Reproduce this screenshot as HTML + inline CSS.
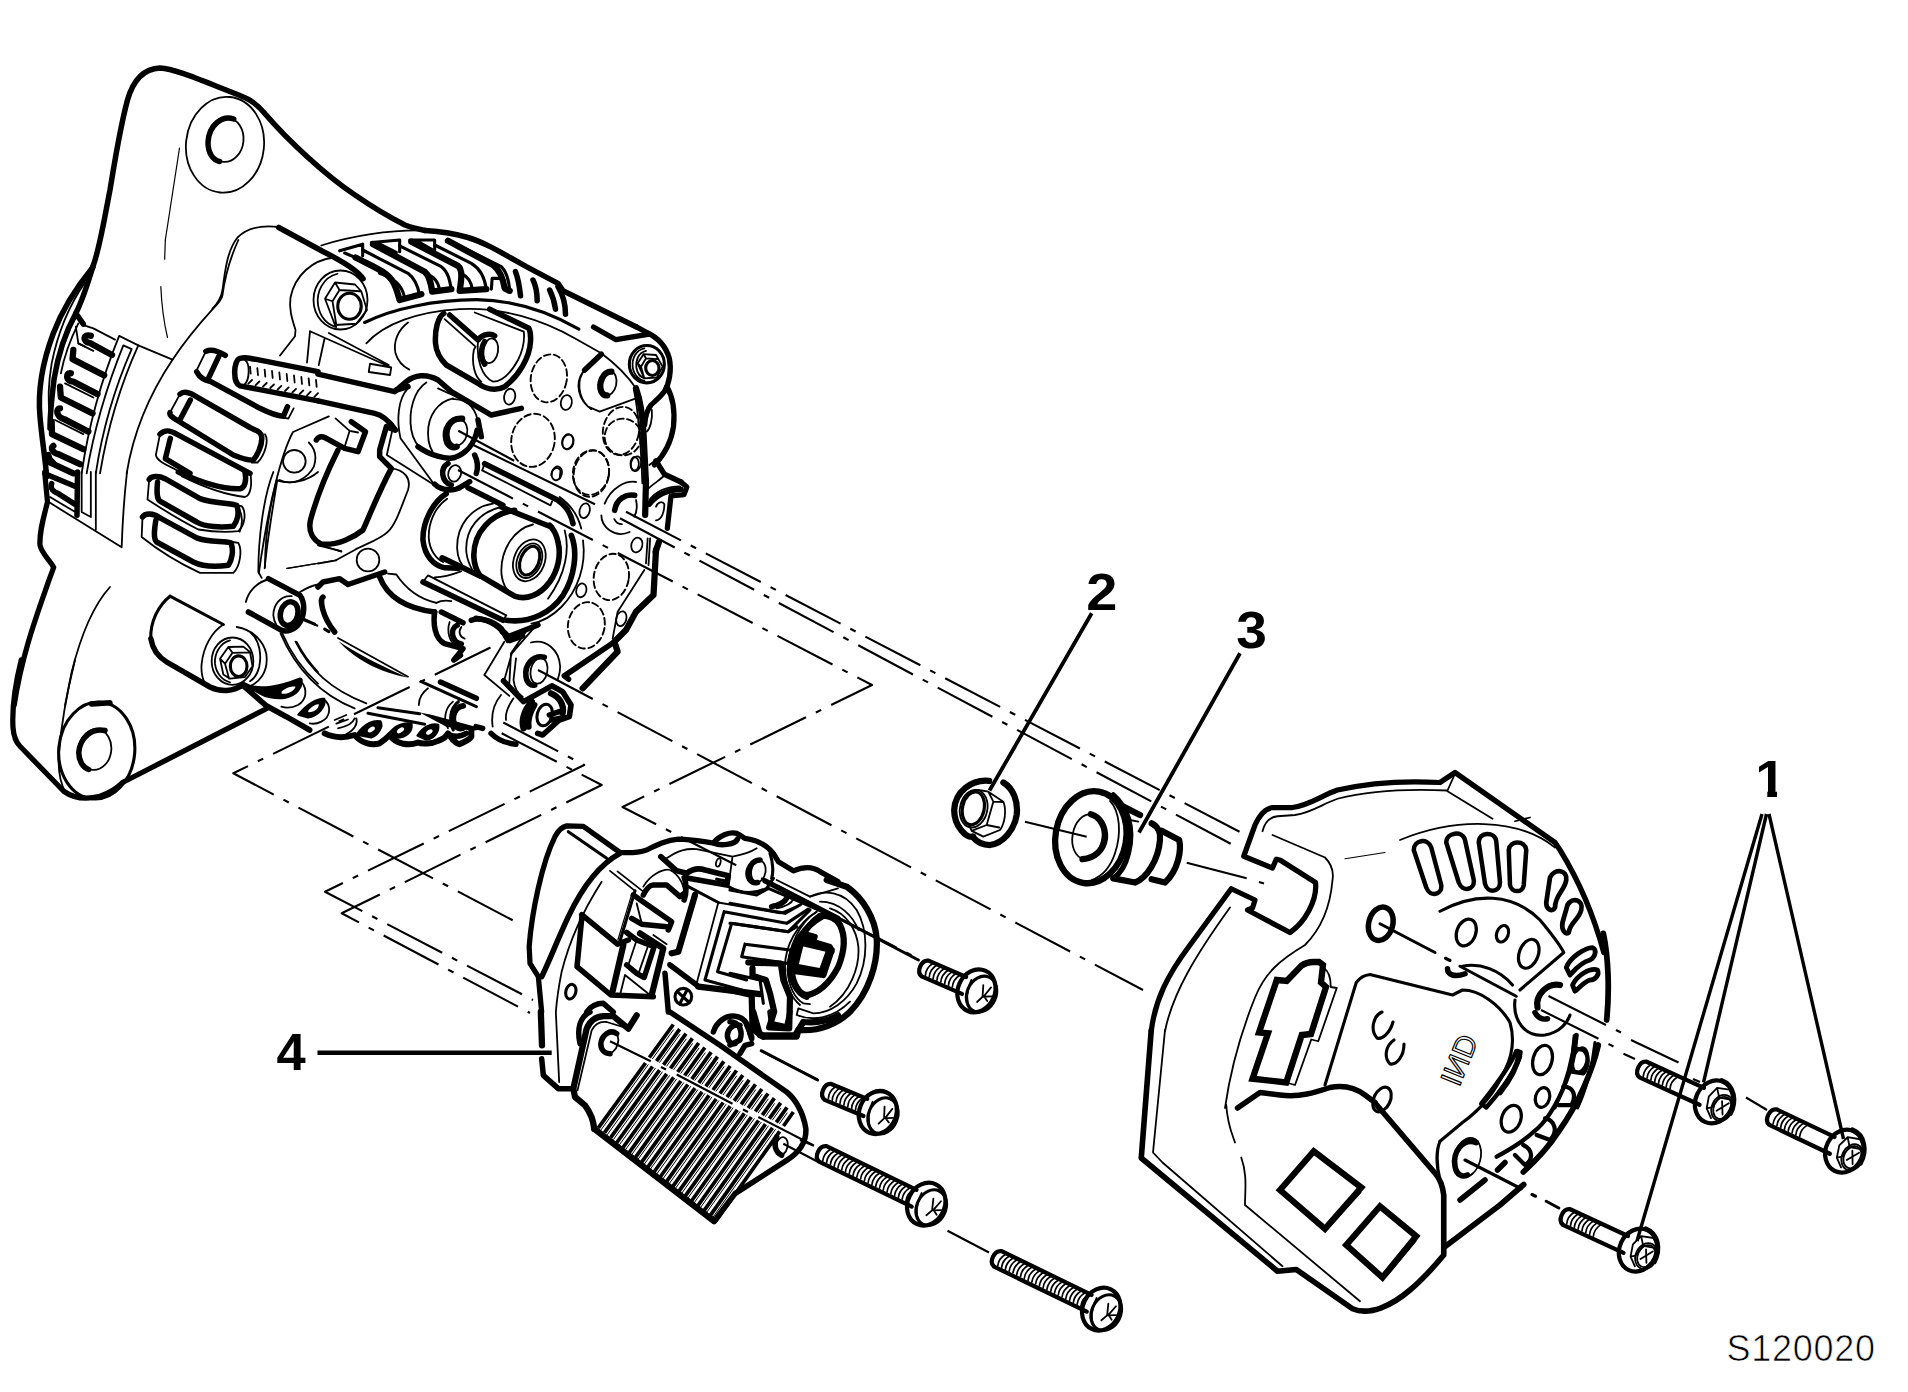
<!DOCTYPE html>
<html><head><meta charset="utf-8"><title>S120020</title>
<style>
html,body{margin:0;padding:0;background:#fff;}
svg{display:block}
svg text{font-family:"Liberation Sans",sans-serif;fill:#000;stroke:none}
path,line,ellipse,circle,polygon,polyline,rect{vector-effect:non-scaling-stroke}
g{stroke-width:1.8}
.k{stroke-width:5.5}
.m{stroke-width:3.1}
.t{stroke-width:1.8}
.h{stroke-width:1.2}
.d{stroke-width:1.9;stroke-dasharray:6.5 3.5}
.c{stroke-width:2.1;stroke-dasharray:62 11 6 11;stroke-linecap:butt}
.cs{stroke-width:2.1;stroke-linecap:butt}
.f{fill:#000}
.w{fill:#fff}
</style></head><body>
<svg width="1908" height="1392" viewBox="0 0 1908 1392" fill="none" stroke="#000" stroke-linecap="round" stroke-linejoin="round">
<rect x="0" y="0" width="1908" height="1392" fill="#fff" stroke="none"/>
<!-- T1: 6x tile [0,240,318,472] : front housing, fan blades, slots -->
<g transform="translate(0,240) scale(.166667)">
<!-- outer arcs -->
<path class="k" d="M556,165 C470,270 380,400 320,560 C260,720 225,900 240,1060 C250,1180 270,1300 280,1420"/>
<path class="k" d="M556,165 C530,250 490,370 455,440 L500,505"/>
<path class="t" d="M510,255 C430,370 350,540 310,740 C290,860 285,960 300,1060"/>
<path class="k" d="M455,440 C400,540 350,680 325,830 C310,950 300,1060 300,1130"/>
<path class="t" d="M470,500 C420,600 385,700 365,800 M455,520 L470,620 L510,640"/>
<!-- fan blades -->
<g style="stroke-width:6.30">
<path  d="M545,575 C500,560 490,610 540,618 L672,690"/>
<path  d="M440,660 L435,715 L625,812"/>
<path  d="M425,800 C395,790 390,850 440,850 L585,925"/>
<path  d="M360,880 L365,945 L555,1040"/>
<path  d="M360,1010 C335,1010 335,1060 385,1075 L530,1150"/>
<path  d="M310,1090 L312,1165 L500,1255"/>
<path  d="M320,1235 C300,1250 320,1280 350,1285 L480,1345"/>
<path  d="M290,1290 L300,1335 L440,1400"/>
</g>
<path class="t" d="M470,620 L560,665 M390,860 L560,945 M330,1080 L500,1165 M300,1300 L330,1330"/>
<!-- strip -->
<path class="t" d="M715,575 C640,760 540,1050 490,1400 M740,632 C660,830 570,1100 520,1400 M790,655 C700,860 620,1100 575,1400 M830,632 C740,830 650,1100 600,1400 M715,575 L830,632 M740,632 L790,655"/>
<path class="t" d="M505,512 L560,530 L690,598 M830,632 L1035,718"/>
<!-- large inner contour -->
<path class="t" d="M1430,0 C1380,110 1350,220 1335,330 C1330,360 1300,390 1280,410 C1180,520 1100,620 1035,718 C900,920 800,1150 760,1400"/>
<path class="h" d="M992,0 L988,115 M965,280 C970,400 985,500 1005,585"/>
<path class="h" d="M1077,-552 L992,0"/>
<!-- stud -->
<path class="k" d="M1908,965 L1440,875 C1395,860 1400,720 1440,710 C1480,700 1500,712 1530,715 L1908,790"/>
<path class="t" d="M1470,720 C1500,740 1500,840 1465,870"/>
<path class="t" d="M1500,760 l4,42 M1544,769 l4,42 M1588,778 l4,42 M1632,786 l4,42 M1676,795 l4,42 M1720,804 l4,42 M1764,813 l4,42 M1808,822 l4,42 M1852,830 l4,42 M1896,839 l4,42"/>
<path class="t" d="M1490,862 l22,-22 M1534,871 l22,-22 M1578,880 l22,-22 M1622,888 l22,-22 M1666,897 l22,-22 M1710,906 l22,-22 M1754,915 l22,-22 M1798,924 l22,-22 M1842,932 l22,-22 M1886,941 l22,-22"/>
<!-- slot 1 -->
<path class="k" d="M1235,668 C1260,655 1300,660 1352,692 M1180,790 C1200,830 1230,840 1265,850 L1560,1010 C1620,1040 1660,1055 1700,1058 L1725,1000 M1312,700 L1250,832"/>
<path class="t" d="M1235,668 L1178,785 M1700,1065 L1730,1072 L1762,1010"/>
<!-- slot 2 -->
<path class="k" d="M1080,925 C1100,905 1140,915 1170,935 L1500,1125 C1540,1145 1565,1150 1570,1180 C1575,1230 1545,1290 1520,1320 C1490,1325 1450,1310 1400,1290 L1060,1080 C1030,1060 1015,1050 1020,1035 M1142,960 L1080,1078"/>
<path class="t" d="M1080,925 L1020,1035 M1590,1165 C1615,1200 1590,1290 1545,1335 L1510,1335"/>
<!-- slot 3 -->
<path class="k" d="M960,1165 C990,1135 1020,1140 1060,1165 L1500,1400 M1022,1190 L992,1312 L1140,1400"/>
<path class="t" d="M960,1165 L935,1290 C940,1320 980,1340 1040,1370 L1090,1400"/>
</g>

<!-- A: 4x tile [0,40,477,388] : bracket, boss -->
<g transform="translate(0,40) scale(.25)">
<path class="k" d="M372,905 C400,830 420,700 440,600 C460,480 480,350 510,240 C530,170 570,115 640,112 C700,115 800,160 960,222 C1010,240 1040,270 1060,295 C1150,400 1300,540 1420,620 C1500,675 1560,710 1620,740 C1650,752 1680,758 1700,762"/>
<ellipse class="t" cx="900" cy="419" rx="156" ry="192" transform="rotate(6 900 419)"/>
<ellipse class="t" cx="902" cy="399" rx="72" ry="89" transform="rotate(6 902 399)"/>
<path class="k" d="M935,316 C890,300 835,340 832,410 C832,450 850,480 878,486"/>
<!-- inner contour -->
<path class="t" d="M1115,748 C1050,740 990,750 950,790 C910,840 900,920 890,1000 C885,1030 875,1050 850,1075"/>
<path class="k" d="M1115,750 L1290,845 C1370,885 1430,920 1452,955"/>
<path class="t" d="M1285,822 C1400,785 1560,758 1700,762"/>
<!-- bolt boss -->
<path class="t" d="M1335,870 C1250,880 1180,940 1162,1030 C1155,1080 1170,1120 1182,1160 L1180,1185 L1120,1262"/>
<ellipse class="t" cx="1362" cy="1040" rx="108" ry="118"/>
<path class="t" d="M1350,935 C1290,950 1265,1010 1272,1060 C1280,1110 1310,1140 1345,1148"/>
<path class="t" d="M1300,1035 L1340,970 L1420,978 L1445,1005 L1468,1080 L1425,1135 L1340,1140 Z M1340,970 L1358,1000 L1330,1045 L1300,1035 M1330,1045 L1345,1138 M1358,1000 L1440,1005"/>
<ellipse class="m" cx="1398" cy="1065" rx="47" ry="52"/>
<!-- triangle mark -->
<path class="t" d="M1240,1165 L1565,1310 L1560,1340 L1475,1328 L1480,1295 L1565,1310 M1240,1165 L1228,1290 M1298,1195 L1275,1300 M1315,1172 L1555,1300"/>
</g>

<!-- T2: 6x tile [318,200,636,432] : fins, ring, diode -->
<g transform="translate(318,200) scale(.166667)">
<path class="k" d="M642,183 C720,188 800,195 900,225 C1000,255 1100,315 1250,400 L1440,500 L1470,545 L1908,760"/>
<!-- fins -->
<path class="m" d="M130,305 L268,265 L268,335 M160,318 L225,345"/>
<path class="k" style="stroke-width:6.30" d="M225,345 C330,400 420,430 455,500 C475,540 480,570 490,600 L620,565"/>
<path class="m" d="M268,300 L540,440 C580,470 600,520 610,570 M370,440 C450,470 500,500 520,585"/>
<path class="m" d="M320,255 L490,240 L490,310 M365,262 L470,315"/>
<path class="k" style="stroke-width:6.30" d="M330,265 L640,430 C665,450 675,480 685,550 L800,535"/>
<path class="m" d="M490,275 L740,400 C780,430 790,480 800,535 M640,440 C700,460 720,490 730,540"/>
<path class="m" d="M550,240 L700,240 L700,300 M600,250 L690,300"/>
<path class="k" style="stroke-width:6.30" d="M560,250 L840,395 C870,420 860,480 850,545 L1010,535"/>
<path class="m" d="M700,270 L920,380 C970,410 1000,460 1010,535 M860,440 C900,460 920,490 925,535"/>
<path class="k" style="stroke-width:6.30" d="M780,245 L1050,390 C1090,420 1110,470 1120,530 L1150,545"/>
<path class="m" d="M880,290 L1100,400 C1130,430 1145,470 1150,545 M1040,535 L1045,470 L1100,470"/>
<path class="k" d="M1185,430 C1205,480 1210,530 1215,575 M1290,480 C1310,520 1315,560 1315,605 M1390,540 C1410,580 1420,620 1425,655 M1440,520 C1470,570 1485,630 1485,685"/>
<!-- ring arcs -->
<path class="m" d="M280,735 C450,650 700,600 950,598 C1150,600 1350,650 1565,775"/>
<path class="t" d="M290,860 C400,740 600,670 850,655 C1100,640 1350,720 1540,830 L1700,920 C1780,980 1860,1060 1908,1130"/>
<!-- diode holder -->
<path class="k" d="M755,680 C720,700 700,780 705,860 C710,920 740,960 770,990 L960,1100 C1000,1130 1060,1150 1120,1120 C1200,1060 1270,950 1275,850 C1278,800 1270,780 1265,770 L1030,655"/>
<path class="k" d="M790,690 L960,840 C990,800 1040,800 1060,815 M1000,850 C970,900 980,960 1000,985"/>
<path class="t" d="M760,715 L945,880 L935,900 C920,980 940,1060 980,1090 M960,850 C950,950 980,1060 1050,1090 C1100,1090 1150,1050 1200,960 C1230,900 1240,840 1235,790 L940,675"/>
<ellipse class="t" cx="1035" cy="905" rx="45" ry="75" transform="rotate(10 1035 905)"/>
<path class="t" d="M540,735 C480,780 450,850 465,920 C480,970 510,1000 548,1018"/>
<!-- dashed circles -->
<ellipse class="d" cx="1385" cy="1070" rx="108" ry="145" transform="rotate(10 1385 1070)"/>
<ellipse class="t" cx="1150" cy="1180" rx="33" ry="48" transform="rotate(10 1150 1180)"/>
<ellipse class="t" cx="1490" cy="1215" rx="33" ry="45" transform="rotate(10 1490 1215)"/>
<!-- right boss -->
<path class="k" d="M1700,925 L1600,1020"/>
<path class="t" d="M1600,1020 C1550,1080 1560,1180 1620,1240 L1690,1270 L1908,1190 M1590,1030 C1540,1100 1560,1200 1640,1255"/>
<ellipse class="t" cx="1740" cy="1100" rx="50" ry="75" transform="rotate(12 1740 1100)"/>
<path class="k" style="stroke-width:6.30" d="M1760,1030 C1710,1030 1680,1100 1700,1150 C1710,1170 1720,1175 1735,1172"/>
<!-- arm thick -->
<path class="k" d="M0,1045 L460,1150 L530,1090 C580,1050 650,1040 720,1080 L800,1150 L1040,1290 L1220,1250"/>
<path class="k" d="M470,1140 L540,1120"/>
</g>

<!-- T3: 6x tile [556,250,874,482] : right ear, bolt -->
<g transform="translate(556,250) scale(.166667)">
<path class="k" style="stroke-width:5.25" d="M480,460 L545,495 C620,530 660,580 680,650 C695,720 680,800 650,850 C620,890 590,910 570,930 C545,960 535,1000 532,1050"/>
<path class="k" style="stroke-width:5.25" d="M225,462 L360,538 L560,505"/>
<path class="k" style="stroke-width:6.25" d="M480,830 C505,900 520,1000 525,1100 L540,1400"/>
<path class="t" d="M468,840 C490,950 508,1100 518,1400"/>
<path class="k" style="stroke-width:5.25" d="M665,820 C700,880 715,960 705,1060 C690,1160 640,1240 590,1290"/>
<path class="k" d="M600,1265 L650,1345 L750,1392"/>
<path class="t" d="M575,960 C580,1020 565,1070 545,1090 M560,1290 L600,1260"/>
<!-- bolt -->
<ellipse class="m" cx="545" cy="685" rx="105" ry="112"/>
<path class="t" d="M530,590 C480,600 455,650 460,700 C465,750 500,780 530,785 M540,605 C495,615 478,660 482,705 C488,745 510,765 535,770"/>
<path class="t" d="M490,680 L525,625 L600,630 L640,700 L605,765 L530,770 Z M525,625 L540,650 L510,700 L490,680 M510,700 L530,770 M540,650 L610,655"/>
<ellipse class="m" cx="578" cy="708" rx="40" ry="45"/>
<!-- dashed circles -->
<ellipse class="d" cx="390" cy="1085" rx="108" ry="145" transform="rotate(10 390 1085)"/>
<ellipse class="d" cx="210" cy="1335" rx="108" ry="135" transform="rotate(10 210 1335)"/>
<ellipse class="t" cx="70" cy="1150" rx="33" ry="45" transform="rotate(15 70 1150)"/>
<ellipse class="t" cx="480" cy="1282" rx="30" ry="45" transform="rotate(15 480 1282)"/>
<ellipse class="t" cx="5" cy="1340" rx="30" ry="42" transform="rotate(15 5 1340)"/>
</g>

<!-- T5: 6x tile [238,340,556,572] : stud end, B+ boss, window -->
<g transform="translate(238,340) scale(.166667)">
<path class="k" d="M480,365 L820,440 C870,450 910,490 945,540"/>
<!-- boss -->
<path class="t" d="M1020,290 C960,350 950,480 975,590 L1180,870"/>
<path class="t" d="M1130,255 C1060,300 1020,420 1040,540 C1050,600 1080,640 1100,650 M1290,350 C1200,370 1140,450 1140,560 C1140,620 1160,670 1190,700"/>
<path class="t" d="M1200,290 L1320,345 M1290,355 C1380,350 1440,420 1440,520"/>
<path class="k" d="M1080,640 C1150,690 1250,720 1300,705 C1370,680 1420,620 1435,540 M1440,480 L1460,580"/>
<path class="k" style="stroke-width:6.25" d="M1345,472 C1270,465 1235,540 1250,600 C1260,640 1290,650 1312,640"/>
<ellipse class="t" cx="1320" cy="555" rx="55" ry="78" transform="rotate(12 1320 555)"/>
<path class="k" d="M1260,740 C1210,770 1220,850 1280,870 M1180,865 C1220,905 1300,910 1340,880 L1390,850 M1420,690 C1440,730 1440,770 1430,800"/>
<ellipse class="t" cx="1300" cy="800" rx="38" ry="50" transform="rotate(15 1300 800)"/>
<!-- window -->
<path class="k" d="M470,600 C480,580 500,575 520,585 L640,650 L720,670 L765,550 L680,490"/>
<path class="k" d="M600,660 C540,780 470,950 435,1080 C420,1150 450,1200 500,1225 C600,1235 700,1180 750,1140 C790,1050 850,900 920,770 L850,700 L850,660 L890,520 L940,540"/>
<path class="t" d="M585,470 L670,545 L720,555 M670,545 L640,640 M925,545 L893,690 L1180,872"/>
<path class="t" d="M545,458 L330,552 C260,680 180,1000 125,1400 M235,845 C210,1000 175,1200 160,1370 M235,845 L250,840 C330,880 420,830 455,760 C475,700 460,650 425,615"/>
<circle class="t" cx="338" cy="728" r="68"/>
<path class="t" d="M920,770 C1000,780 1040,830 1020,900 C980,1000 950,1100 900,1150 C850,1200 750,1230 700,1260 L590,1320 M540,1245 L620,1270"/>
<path class="h" d="M590,1320 L300,1370"/>
<circle class="t" cx="780" cy="1320" r="68"/>
<path class="t" d="M0,1000 C30,1050 30,1100 10,1150"/>
</g>

<!-- T4: 6x tile [318,432,636,664] : centre bearing -->
<g transform="translate(318,432) scale(.166667)">
<!-- outer left arc -->
<path class="k" d="M770,370 C690,420 625,540 630,650 C640,740 690,800 760,815 L840,818"/>
<path class="t" d="M775,400 C700,450 660,550 665,640 C670,710 710,760 750,780"/>
<path class="k" style="stroke-width:5.62" d="M745,755 L975,865"/>
<path class="k" d="M900,335 L1110,440 M1100,450 L1400,570"/>
<path class="t" d="M1050,430 C920,450 830,560 835,700 C838,760 860,800 890,825 M1100,450 C970,480 880,580 890,720 C895,770 910,800 930,835"/>
<path class="k" style="stroke-width:5.62" d="M1180,470 C1040,490 930,600 935,750 C938,800 950,830 970,860 L1180,985 C1250,1010 1330,980 1390,900 C1440,830 1460,740 1440,660 C1430,610 1410,580 1390,560"/>
<path class="t" d="M1290,555 C1180,580 1100,700 1100,830 C1100,900 1130,960 1180,985"/>
<ellipse class="t" cx="1268" cy="770" rx="92" ry="130" transform="rotate(22 1268 770)"/>
<ellipse class="t" cx="1268" cy="772" rx="72" ry="108" transform="rotate(22 1268 772)"/>
<ellipse class="m" cx="1270" cy="772" rx="55" ry="90" transform="rotate(22 1270 772)"/>
<!-- outer right ring -->
<path class="k" style="stroke-width:5.62" d="M1520,620 C1560,720 1540,870 1470,980 C1400,1080 1280,1150 1130,1130"/>
<path class="t" d="M1590,650 C1610,800 1560,950 1460,1050 C1400,1110 1340,1140 1280,1150 M1480,590 C1510,700 1490,850 1380,1000"/>
<!-- upper plate -->
<path class="k" style="stroke-width:5.62" d="M1000,190 L1440,410 C1500,450 1520,500 1530,550"/>
<path class="t" d="M1000,190 L985,230 L1395,440 L1405,415 M1450,390 C1520,440 1560,500 1580,580"/>
<!-- lower plate -->
<path class="k" style="stroke-width:5.62" d="M630,900 L1110,1130"/>
<path class="t" d="M630,900 L660,860 L1130,1100 L1110,1130 M700,872 C780,870 820,850 860,835"/>
<!-- lower-left window -->
<path class="k" d="M0,930 L30,900 L130,880 L180,915 L400,840 M30,990 C10,1000 20,1100 100,1200 M370,870 C420,1000 540,1060 700,1080"/>
<path class="t" d="M420,850 L470,855 C520,930 600,1000 710,1025 M0,790 L110,770 M0,680 L140,715"/>
<!-- lower terminal -->
<path class="k" d="M700,1080 C690,1150 700,1240 760,1270 L870,1300 M740,1080 L870,1145 M835,1160 C790,1180 800,1260 860,1272 M920,1130 C960,1110 1050,1130 1100,1180 L1140,1250"/>
<path class="t" d="M710,1025 C740,1010 770,1010 800,1015 M790,1140 C770,1200 790,1260 830,1285 M860,1170 C840,1200 850,1230 880,1240"/>
<!-- dashed circles -->
<ellipse class="d" cx="1640" cy="250" rx="105" ry="140" transform="rotate(10 1640 250)"/>
<ellipse class="d" cx="1290" cy="50" rx="130" ry="160" transform="rotate(10 1290 50)"/>
<ellipse class="d" cx="1830" cy="30" rx="110" ry="110"/>
<ellipse class="d" cx="1760" cy="870" rx="105" ry="140" transform="rotate(10 1760 870)"/>
<ellipse class="d" cx="1610" cy="1160" rx="110" ry="140" transform="rotate(10 1610 1160)"/>
<ellipse class="t" cx="1500" cy="60" rx="33" ry="45" transform="rotate(15 1500 60)"/>
<ellipse class="t" cx="1600" cy="472" rx="30" ry="45" transform="rotate(15 1600 472)"/>
<ellipse class="t" cx="1580" cy="950" rx="30" ry="42" transform="rotate(15 1580 950)"/>
<ellipse class="t" cx="1820" cy="1120" rx="30" ry="45" transform="rotate(15 1820 1120)"/>
<ellipse class="t" cx="1900" cy="190" rx="25" ry="40"/>
<path class="t" d="M1400,260 C1400,220 1440,200 1455,230 L1450,280"/>
<!-- right boss -->
<path class="k" style="stroke-width:5.62" d="M1780,470 C1790,400 1850,370 1900,380"/>
<path class="t" d="M1720,430 C1760,330 1850,290 1908,300 M1700,500 C1700,570 1780,640 1870,600"/>
</g>

<!-- T6: 6x tile [0,472,318,704] -->
<g transform="translate(0,472) scale(.166667)">
<path class="k" style="stroke-width:5.25" d="M268,0 L285,180 C260,280 235,360 240,440 C250,490 300,530 322,572 L290,660 C220,860 130,1100 85,1400"/>
<!-- slot 3 end -->
<path class="k" d="M1070,0 C1200,60 1330,105 1440,100 C1470,95 1480,50 1470,0"/>
<path class="t" d="M1090,25 C1200,80 1330,135 1470,150 C1505,140 1515,70 1500,0"/>
<!-- slot 4 -->
<path class="k" d="M895,45 C905,25 950,20 990,40 L1200,160 C1280,190 1380,185 1420,200 C1440,250 1420,300 1400,325 C1330,335 1230,330 1180,300 L960,175 C940,160 940,120 945,60"/>
<path class="t" d="M895,45 L885,165 C1000,240 1100,300 1190,345 C1280,360 1380,360 1430,355 C1470,320 1480,240 1450,205 L1420,200"/>
<!-- slot 5 -->
<path class="k" d="M855,270 C870,245 920,245 960,275 L1180,395 C1260,425 1340,410 1385,425 C1405,470 1390,530 1370,560 C1300,570 1220,570 1160,540 L940,420 C920,400 925,350 935,290"/>
<path class="t" d="M855,270 L850,390 C950,470 1080,550 1200,605 L1400,605 C1440,570 1455,470 1430,425 L1395,420"/>
<!-- strip bottom / blades -->
<path class="t" d="M490,0 L490,240 L545,270 L545,0 M575,0 L575,345 M762,0 C745,150 735,300 730,450 M300,150 L460,245 M300,185 L730,452"/>
<path class="k" d="M465,0 L462,260 M270,10 L460,90 M310,70 C300,100 320,120 350,130 L460,200"/>
<path class="t" d="M660,690 C560,800 480,1000 430,1200 L390,1400"/>
<!-- lower boss -->
<path class="m" d="M1020,745 L1340,915 M1020,745 C950,800 900,900 905,1000"/>
<path class="k" d="M905,1000 C915,1060 950,1110 1000,1140 L1260,1290 C1320,1320 1400,1320 1460,1275 C1550,1330 1700,1290 1800,1250"/>
<path class="t" d="M1340,915 C1270,960 1220,1050 1210,1150 C1205,1200 1215,1240 1230,1270 M1420,930 C1540,950 1605,1050 1600,1130 C1600,1200 1560,1260 1500,1285 M1500,960 C1560,1010 1570,1100 1555,1170 C1545,1210 1525,1240 1500,1255"/>
<ellipse class="t" cx="1395" cy="1135" rx="125" ry="142"/>
<path class="t" d="M1380,1010 C1320,1025 1285,1090 1290,1150 C1297,1210 1335,1250 1380,1262"/>
<path class="t" d="M1320,1120 L1370,1050 L1460,1048 L1500,1080 L1515,1165 L1470,1230 L1380,1240 L1340,1215 Z M1370,1050 L1395,1085 L1350,1150 L1320,1120 M1350,1150 L1375,1240 M1395,1085 L1500,1082"/>
<ellipse class="m" cx="1432" cy="1165" rx="50" ry="62"/>
<!-- upper right boss -->
<path class="k" d="M1610,640 L1800,740 C1830,780 1830,850 1800,900 C1770,950 1720,960 1690,950 L1490,840"/>
<ellipse class="k" cx="1735" cy="850" rx="52" ry="72" transform="rotate(15 1735 850)"/>
<path class="t" d="M1610,645 C1540,660 1490,720 1475,780 M1750,745 C1680,740 1640,800 1640,860 C1645,910 1670,940 1700,950"/>
<path class="t" d="M1640,0 C1580,150 1550,400 1550,600 L1570,635 M1908,0 C1850,50 1750,80 1660,50 C1620,200 1590,400 1590,570 M1800,720 C1850,690 1880,680 1908,675 M1690,960 C1750,1100 1830,1200 1908,1270 M1780,1020 C1820,1100 1870,1160 1908,1200"/>
<path class="h" d="M1720,578 L1908,548"/>
<path class="k" d="M550,1392 L660,1385"/>
</g>

<!-- T7: 4x tile [0,660,477,1008] : lower ear -->
<g transform="translate(0,660) scale(.25)">
<path class="k" style="stroke-width:5.25" d="M85,0 C60,100 48,200 52,270 C55,310 65,330 80,345 L255,525 C290,550 340,560 400,545 C440,530 470,510 490,490 L1075,190"/>
<path class="t" d="M300,0 C275,100 245,250 235,380 C232,440 240,490 262,530"/>
<ellipse class="m" cx="387" cy="362" rx="152" ry="194" transform="rotate(5 387 362)"/>
<ellipse class="t" cx="380" cy="358" rx="65" ry="82" transform="rotate(8 380 358)"/>
<path class="k" d="M420,282 C370,270 320,310 315,370 C315,400 330,430 355,438"/>
</g>

<!-- T8: 6x tile [238,620,556,852] : petals, bottom boss -->
<g transform="translate(238,620) scale(.166667)">
<!-- petal 1 -->
<path class="f" stroke-width="2" d="M30,385 C100,430 200,430 260,400 C310,375 345,360 375,360 C395,400 350,455 280,468 C220,475 160,460 130,440 Z"/>
<path class="w" stroke="none" d="M262,428 C290,402 330,396 345,399 C340,425 300,447 262,442 Z"/>
<path class="t" d="M380,370 C420,420 410,480 360,510 C320,530 290,530 260,520"/>
<path class="k" style="stroke-width:5.62" d="M30,392 L170,515 L290,580 L430,660"/>
<!-- petal 2 -->
<path class="f" stroke-width="2" d="M362,568 C420,500 480,468 518,473 C530,520 480,575 420,585 Z"/>
<path class="w" stroke="none" d="M420,547 C440,517 470,506 485,506 C485,530 460,552 425,554 Z"/>
<path class="t" d="M515,475 C560,510 560,580 500,610 C470,625 450,625 430,620"/>
<!-- p3 thin -->
<path class="t" d="M580,600 L650,570 M590,622 L660,597 M600,650 C650,640 690,620 700,590 M650,685 C700,660 720,620 710,590"/>
<!-- bottom contour -->
<path class="k" style="stroke-width:6.00" d="M520,680 C580,710 650,705 700,690 C740,740 800,755 850,740 C880,720 900,700 910,690 C950,750 1030,755 1080,735 C1100,745 1160,745 1200,725 C1230,715 1250,700 1260,680 C1290,720 1310,745 1330,745 C1360,730 1390,720 1400,700 L1400,660"/>
<path class="f" stroke-width="2" d="M712,688 C760,618 820,598 855,608 C875,640 840,692 800,705 Z M896,694 C940,628 1000,613 1042,623 C1048,670 1010,704 960,706 Z M1076,694 C1110,638 1160,618 1202,628 C1208,680 1170,714 1130,719 Z"/>
<ellipse class="w" stroke="none" cx="800" cy="657" rx="24" ry="13" transform="rotate(-35 800 657)"/>
<ellipse class="w" stroke="none" cx="975" cy="662" rx="24" ry="13" transform="rotate(-35 975 662)"/>
<ellipse class="w" stroke="none" cx="1148" cy="672" rx="22" ry="12" transform="rotate(-35 1148 672)"/>
<path class="k" d="M1270,690 C1300,700 1340,700 1370,680"/>
<!-- ring arcs -->
<path class="t" d="M255,80 C350,300 500,450 700,530 M345,130 C430,300 560,420 770,500 M600,108 L1020,340"/>
<path class="f" stroke="none" d="M603,128 C700,235 850,315 1018,345 C880,285 760,225 640,152 Z"/>
<path class="m" d="M840,527 L1090,562 M780,560 L1120,625"/>
<path class="f" stroke="none" d="M1090,555 L1160,568 L1480,655 L1405,665 L1250,640 Z"/>
<!-- bottom boss -->
<path class="k" style="stroke-width:5.62" d="M1352,515 C1300,520 1280,580 1300,630 C1310,650 1330,655 1348,650"/>
<path class="t" d="M1290,490 C1240,530 1230,600 1260,650"/>
<path class="m" d="M1322,490 C1270,530 1265,610 1292,660 M1100,370 L1430,520"/>
<path class="k" d="M1215,372 L1430,470"/>
<path class="t" d="M1140,410 C1100,440 1085,480 1085,510"/>
<!-- misc top -->
<path class="k" d="M1340,185 L1295,240 L1335,212 M1620,100 L1800,30"/>
<path class="m" d="M520,55 L545,70 M400,0 L460,25"/>
</g>

<!-- T9: 6x tile [476,560,794,792] -->
<g transform="translate(476,560) scale(.166667)">
<path class="k" style="stroke-width:6.25" d="M1080,-60 L1065,210 L960,310 L900,420 L830,490 L850,550 L640,770"/>
<path class="t" d="M1010,60 L850,310 L820,470"/>
<path class="k" style="stroke-width:5.62" d="M825,495 L530,695 L555,715"/>
<!-- boss -->
<path class="t" d="M330,495 C420,470 500,540 505,640 C505,680 495,700 490,720 M320,400 L210,560 L200,740 M240,590 L225,720 C230,760 250,800 280,820 M170,490 L50,690 L200,815 M380,370 L215,560 L170,720"/>
<path class="k" style="stroke-width:5.62" d="M410,583 C340,568 290,630 300,700 C305,740 330,755 352,750"/>
<ellipse class="t" cx="378" cy="665" rx="50" ry="78" transform="rotate(12 378 665)"/>
<path class="k" style="stroke-width:5.62" d="M165,725 L285,850 L455,755 L520,790 L570,870 L560,940 L500,960 L400,1050 L370,1040"/>
<path class="k" style="stroke-width:6.25" d="M335,850 C290,900 270,960 285,1010 M450,800 C500,820 530,870 520,920 M350,870 C320,920 310,960 315,1000"/>
<ellipse class="m" cx="412" cy="930" rx="45" ry="66" transform="rotate(15 412 930)"/>
<path class="k" d="M440,930 L500,910 M455,960 L500,950"/>
<!-- left -->
<path class="k" style="stroke-width:5.62" d="M0,350 C80,360 150,400 190,470 L205,482 L280,455"/>
<path class="k" style="stroke-width:6.25" d="M160,430 C185,445 195,465 200,480"/>
<path class="t" d="M150,810 C100,870 90,930 100,1000 M225,830 C190,880 175,920 180,960"/>
<path class="k" d="M0,1000 L40,1010 M90,1040 C130,1080 180,1100 240,1105"/>
</g>

<!-- T10: 6x tile [556,400,874,632] -->
<g transform="translate(556,400) scale(.166667)">
<path class="k" style="stroke-width:6.25" d="M540,480 L535,690"/>
<path class="k" style="stroke-width:5.25" d="M750,492 L785,522 L768,568 L690,575 L668,770"/>
<path class="k" d="M560,625 C600,570 670,540 750,535"/>
<path class="t" d="M555,530 C600,490 640,470 650,450 M560,600 C600,545 670,520 745,518 M600,640 C610,610 640,605 650,625 C650,680 630,720 600,722 M480,600 C490,640 480,680 470,700 M350,715 C360,735 380,745 395,745"/>
<path class="k" style="stroke-width:6.25" d="M618,850 L598,910"/>
<path class="t" d="M550,830 L540,980 M565,830 L555,990"/>
<ellipse class="t" cx="485" cy="870" rx="33" ry="45" transform="rotate(15 485 870)"/>
</g>

<!-- R1: 6x tile [520,780,838,1012] : regulator top -->
<g transform="translate(520,780) scale(.166667)">
<path class="k" style="stroke-width:5.25" d="M130,1392 L110,1180 L60,1100 L55,1000 C70,800 130,500 210,340 C230,300 260,280 280,275 L380,278 L600,435 C680,440 730,430 760,420 C820,390 880,360 950,355 C1020,355 1100,370 1160,378 C1200,330 1260,310 1300,320 C1330,335 1340,345 1350,350 C1420,360 1480,390 1520,440 L1550,490 L1640,545 C1700,520 1760,520 1800,550 L1908,610"/>
<path class="k" d="M1165,380 C1200,395 1290,390 1305,355"/>
<path class="m" d="M290,310 L520,470"/>
<path class="k" d="M600,440 C470,510 370,650 290,820 C220,970 170,1100 130,1180"/>
<path class="t" d="M490,610 C400,750 300,950 250,1150 C230,1250 220,1330 215,1392 M370,860 C355,950 350,1000 345,1100"/>
<!-- brush holder blocks -->
<path class="k" d="M370,808 L585,985 L650,960 M372,815 L342,1120 L545,1290 L800,1300"/>
<path class="k" style="stroke-width:6.25" d="M620,990 L555,1270 M720,920 L860,1010 L790,1290"/>
<path class="m" d="M690,665 L600,965"/>
<path class="h" d="M672,680 L587,960"/>
<path class="k" d="M680,690 L910,850 L890,900 M670,830 L730,865 L880,880 M640,915 L700,960 L805,1000 L745,1185 L700,1160 L640,1110"/>
<path class="t" d="M700,740 L730,860 M700,960 L650,1110 M770,990 L715,1150 M540,545 L690,665 M585,548 L740,670 M600,1290 L630,1170 L780,1290 M800,930 L880,985"/>
<path class="k" style="stroke-width:6.25" d="M1050,690 L950,1030 L910,1040"/>
<path class="t" d="M890,1100 L1060,1220 L1190,735"/>
<!-- upper arm -->
<path class="k" style="stroke-width:5.62" d="M845,460 L940,545 L1000,560 C1040,530 1080,530 1110,540 L1250,575 L1240,630 L1010,590"/>
<path class="m" d="M1180,595 L1230,605 L1225,630"/>
<path class="t" d="M880,470 C950,420 1000,410 1060,415 L1275,460 L1250,640 M1275,460 C1330,450 1390,430 1420,410 M740,640 C780,570 860,530 900,540 C960,570 990,640 985,700"/>
<ellipse class="t" cx="1190" cy="495" rx="13" ry="25" transform="rotate(15 1190 495)"/>
<path class="k" d="M740,690 C760,650 780,630 800,630 L880,630 L960,700 L985,680 M985,585 C1000,620 1000,680 985,720"/>
<!-- top ear hole -->
<path class="k" d="M1440,480 C1390,480 1360,540 1370,580 C1380,610 1400,620 1425,615"/>
<ellipse class="t" cx="1430" cy="548" rx="43" ry="65" transform="rotate(10 1430 548)"/>
<path class="m" d="M1250,640 C1320,680 1400,690 1480,650 L1520,590 M1500,440 C1520,500 1520,560 1510,590 M1010,640 L1190,735"/>
<path class="k" d="M1470,605 L1908,830"/>
<path class="t" d="M1540,600 L1740,700 L1908,650 M1560,650 L1780,770 M1510,750 C1560,740 1590,720 1600,700 M1540,770 C1590,760 1630,740 1640,715"/>
<!-- body panel -->
<path class="t" d="M1190,735 L1560,800 L1690,745"/>
<path class="m" d="M1225,790 L1600,860 L1730,775 M1225,790 L1110,1200 L1440,1290 M1270,860 L1610,910 L1660,880 M1270,860 L1185,1150 L1360,1200 M1350,985 L1620,1020 M1350,985 L1330,1060 L1600,1100"/>
<path class="k" style="stroke-width:6.25" d="M1070,1240 L1440,1285"/>
<!-- connector -->
<path class="k" style="stroke-width:6.25" d="M1810,820 C1700,880 1630,1000 1620,1100 C1620,1200 1660,1280 1720,1300"/>
<path class="t" d="M1780,790 C1660,860 1590,1000 1590,1120 C1590,1230 1630,1310 1680,1350"/>
<path class="k" style="stroke-width:6.25" d="M1690,960 L1650,1120 L1810,1150 L1860,1010"/>
<path class="k" d="M1700,930 L1750,950 L1760,970 L1860,1000 L1870,1030 M1690,960 L1760,980"/>
<!-- bottom -->
<circle class="m" cx="980" cy="1300" r="50"/>
<path class="m" d="M945,1270 L1015,1335 M1000,1265 L960,1340"/>
<path class="k" d="M870,1160 L890,1392 M900,1110 L1060,1230 M400,1392 C430,1350 470,1340 500,1340 L560,1392"/>
<ellipse class="m" cx="305" cy="1270" rx="30" ry="45" transform="rotate(15 305 1270)"/>
</g>

<!-- R2: 6x tile [520,1012,838,1244] : heat sink -->
<g transform="translate(520,1012) scale(.166667)">
<path class="m" style="stroke-width:3.75;stroke-linecap:butt" d="M920,75 L776,273 M753,306 L470,695 M958,103 L819,295 M795,327 L507,724 M996,130 L861,317 M837,349 L544,754 M1034,158 L903,338 M880,371 L581,783 M1072,186 L946,360 M922,392 L618,813 M1109,213 L988,381 M965,414 L656,842 M1147,241 L1031,403 M1007,435 L693,872 M1185,268 L1073,425 M1050,457 L730,901 M1223,296 L1115,446 M1092,479 L767,931 M1261,324 L1158,468 M1134,500 L804,960 M1299,351 L1200,489 M1177,522 L841,990 M1337,379 L1242,511 M1219,543 L878,1019 M1375,407 L1285,533 M1261,565 L915,1049 M1413,434 L1327,554 M1304,587 L952,1078 M1451,462 L1369,576 M1346,608 L989,1108 M1488,489 L1412,597 M1388,630 L1027,1137 M1526,517 L1454,619 M1431,651 L1064,1167 M1564,545 L1496,640 M1473,673 L1101,1196 M1602,572 L1538,662 M1515,695 L1138,1226 M1640,600 L1581,684 M1558,716 L1175,1255"/>
<path class="h" style="stroke-width:1.00;stroke-linecap:butt" d="M922,105 L794,282 M770,315 L486,707 M960,133 L836,304 M813,336 L523,737 M998,161 L879,326 M855,358 L560,766 M1036,188 L921,347 M898,380 L597,796 M1074,216 L964,369 M940,401 L634,825 M1112,244 L1006,390 M983,423 L671,855 M1150,271 L1048,412 M1025,445 L708,884 M1188,299 L1091,434 M1067,466 L745,914 M1225,327 L1133,455 M1110,488 L782,943 M1263,354 L1175,477 M1152,509 L820,973 M1301,382 L1218,498 M1194,531 L857,1002 M1339,410 L1260,520 M1237,553 L894,1032 M1377,437 L1302,542 M1279,574 L931,1061 M1415,465 L1345,563 M1321,596 L968,1091 M1453,493 L1387,585 M1364,617 L1005,1120 M1490,521 L1429,606 M1406,639 L1042,1149 M1528,548 L1472,628 M1448,660 L1079,1179 M1566,576 L1514,649 M1491,682 L1116,1208 M1604,604 L1556,671 M1533,704 L1153,1238"/>
<path class="k" style="stroke-width:6.25" d="M445,700 L1165,1255"/>
<path class="k" d="M1165,1255 L1290,1090 L1600,890 C1680,840 1720,780 1715,700 C1700,600 1650,520 1600,480 L1200,200 L900,0"/>
<path class="k" style="stroke-width:6.25" d="M445,700 C440,640 420,600 390,560 L330,510 L320,460 L400,100 C420,50 450,30 500,25 L560,25 L650,100 L700,20"/>
<path class="t" d="M345,470 L430,110 C450,70 480,55 520,60 L650,100 M215,0 L235,420"/>
<path class="k" d="M130,280 L140,380 L230,460 L320,460 M360,190 C340,100 360,30 420,0"/>
<path class="k" style="stroke-width:6.30" d="M125,0 L132,200"/>
<path class="k" d="M580,130 C540,100 490,140 485,190 C485,230 510,250 540,250"/>
<ellipse class="t" cx="540" cy="180" rx="48" ry="70" transform="rotate(15 540 180)"/>
<path class="k" d="M1320,80 C1270,70 1240,110 1245,150 C1250,180 1270,195 1290,190 M1160,120 C1180,60 1230,20 1290,25 C1340,30 1370,70 1380,130 L1390,160 M1320,250 L1350,200 L1390,190"/>
<ellipse class="t" cx="1290" cy="130" rx="42" ry="60" transform="rotate(15 1290 130)"/>
<path class="k" d="M1540,750 C1520,790 1530,840 1570,860"/>
<ellipse class="t" cx="1570" cy="805" rx="35" ry="55" transform="rotate(15 1570 805)"/>
<path class="k" style="stroke-width:6.25" d="M1400,0 L1440,140 L1650,140 L1700,60 C1800,70 1880,40 1908,20"/>
<path class="k" d="M1500,0 L1510,70 L1600,90 L1620,0"/>
</g>

<!-- R3: 6x tile [730,880,1048,1112] : connector -->
<g transform="translate(730,880) scale(.166667)">
<path class="k" style="stroke-width:6.25" d="M580,0 L700,40 C800,110 870,230 880,350 C890,500 830,680 720,790 C650,860 540,910 410,900 L400,940 L200,940 L130,890"/>
<path class="t" d="M480,100 C560,60 680,60 760,180 C830,300 830,480 760,620 C700,730 600,800 500,800 L410,770 L400,810 C500,850 620,830 720,730 M600,170 C700,200 760,300 770,400 C780,520 720,680 600,760 M540,130 C660,130 740,220 770,300 M520,190 C420,250 350,400 345,540 C350,640 390,710 440,740 L480,745"/>
<path class="k" style="stroke-width:6.25" d="M540,215 C450,280 380,400 370,520 C370,600 400,670 450,690 C520,690 600,620 650,520 C690,420 690,330 660,270 C640,230 590,210 540,215 Z"/>
<path class="k" style="stroke-width:6.25" d="M420,375 L610,420 L560,570 L380,545"/>
<path class="k" d="M430,350 L500,370 L510,340 L440,320"/>
<path class="k" style="stroke-width:6.25" d="M110,495 L305,502 L320,600 L360,700 L355,890 L235,885 L265,790 L240,680 L215,600 L135,575 L135,530 M0,660 L130,690 L135,880 L200,940"/>
<path class="m" d="M0,560 L180,600 L200,740 M0,60 L160,90 L230,50 M0,140 L330,200 L420,150 M0,260 L350,310 L480,180 M230,50 L640,225 M290,40 L1130,480"/>
<path class="k" d="M250,160 C300,150 330,130 340,110 M0,850 C50,850 80,900 60,960 L0,990 M100,870 L130,940"/>
<path class="m" d="M190,1025 L525,1200"/>
</g>

<!-- N1: 6x tile [930,740,1248,972] : nut + bushing -->
<g transform="translate(930,740) scale(.166667)">
<path class="k" style="stroke-width:6.25" d="M355,245 C250,235 150,310 145,420 C145,520 220,590 260,580 M440,255 C500,290 530,370 520,450 C505,540 440,620 360,630 C310,630 280,610 255,580"/>
<path class="t" d="M190,380 C200,330 240,300 290,300 L350,310 L380,370 L340,510 L250,545 L235,510 M350,310 L440,370 C460,420 450,500 420,540 L320,580 L250,545 M380,370 L440,372 M340,510 L415,525"/>
<ellipse class="m" style="stroke-width:3.22" cx="260" cy="410" rx="65" ry="100" transform="rotate(12 260 410)"/>
<ellipse class="t" cx="262" cy="412" rx="82" ry="114" transform="rotate(12 262 412)"/>
<ellipse class="k" style="stroke-width:6.30" cx="965" cy="583" rx="212" ry="278" transform="rotate(10 965 583)"/>
<path class="t" d="M1080,365 C1140,430 1150,560 1110,680 C1080,770 1030,820 970,840"/>
<path class="k" d="M1100,330 C1180,400 1230,520 1190,680 C1170,760 1130,810 1100,830"/>
<path class="k" style="stroke-width:6.30" d="M965,445 C1020,460 1055,520 1050,590 C1040,660 990,710 915,715"/>
<ellipse class="t" cx="945" cy="580" rx="90" ry="135" transform="rotate(10 945 580)"/>
<path class="k" style="stroke-width:6.30" d="M1160,400 L1260,450"/>
<path class="k" style="stroke-width:6.25" d="M1100,830 L1230,855 C1300,830 1370,720 1380,600 C1385,560 1370,520 1330,500 M1390,545 L1495,600 C1510,660 1490,780 1410,855 L1330,835"/>
<path class="t" d="M1200,480 L1250,490"/>
</g>

<!-- V1: 4x tile [1130,760,1607,1108] : cover top -->
<g transform="translate(1130,760) scale(.25)">
<path class="k" style="stroke-width:5.25" d="M85,1085 C100,960 150,860 240,740 L405,515 L500,560 L490,592 L470,600 L640,690 C700,650 750,560 742,490 L600,400 L585,397 L570,432 L455,385 L500,260 C520,215 540,195 570,190 L650,190 C720,180 770,140 830,120 C960,90 1100,82 1240,90 L1300,50 L1700,330 L1720,360 C1800,490 1860,640 1895,770"/>
<path class="t" d="M530,285 C540,245 560,228 590,225 L660,220 C730,210 770,175 830,155 C960,122 1120,115 1270,122 L1300,55 M1270,125 L1450,235 M1540,245 L1600,230"/>
<path class="t" d="M1080,320 C1300,230 1550,230 1700,350"/>
<path class="h" d="M860,395 L1020,370"/>
<path class="t" d="M400,590 C270,770 170,930 140,1085 M570,300 L780,390 C810,420 815,450 810,480 C800,600 760,680 700,740 C600,800 540,850 500,950 C440,1100 400,1250 380,1392"/>
<!-- vents -->
<path class="m" style="stroke-width:4.50" d="M1135,360 C1135,320 1190,310 1205,350 L1245,500 C1250,540 1200,550 1185,510 Z M1265,330 C1265,290 1330,280 1340,320 L1375,480 C1380,520 1330,530 1315,490 Z M1395,330 C1395,285 1460,285 1465,325 L1480,490 C1480,530 1430,535 1420,495 Z M1515,360 C1520,320 1580,320 1585,360 L1575,500 C1570,535 1525,530 1520,500 Z"/>
<path class="m" style="stroke-width:4.75" d="M1680,470 C1700,430 1750,440 1745,480 C1740,520 1700,540 1700,590 C1690,610 1665,600 1665,570 Z M1750,580 C1770,545 1815,560 1805,600 C1795,640 1760,650 1755,690 C1740,700 1725,680 1730,650 Z M1745,830 C1760,790 1820,750 1850,750 C1870,760 1860,790 1840,800 C1800,810 1770,850 1760,860 Z M1770,900 C1790,860 1840,830 1870,840 C1880,860 1860,880 1840,880 C1810,890 1790,920 1780,925 Z"/>
<!-- disc -->
<path class="m" d="M1240,605 C1380,530 1530,530 1640,640 C1690,700 1720,740 1735,770 L1560,920 M1330,825 C1400,810 1480,840 1530,900"/>
<ellipse class="m" style="stroke-width:3.22" cx="1345" cy="690" rx="38" ry="55" transform="rotate(20 1345 690)"/>
<ellipse class="m" style="stroke-width:3.22" cx="1490" cy="695" rx="23" ry="34" transform="rotate(20 1490 695)"/>
<ellipse class="m" style="stroke-width:3.22" cx="1595" cy="775" rx="38" ry="60" transform="rotate(20 1595 775)"/>
<path class="k" d="M1270,835 C1270,860 1300,870 1340,855"/>
<!-- hole 1 -->
<ellipse class="k" cx="1003" cy="655" rx="48" ry="68" transform="rotate(15 1003 655)"/>
<path class="t" d="M1040,600 C1070,630 1060,690 1020,720"/>
<path class="m" d="M1000,655 L1220,770 M1262,793 L1280,802 M1320,825 L1545,945"/>
<!-- hole 2 -->
<path class="k" style="stroke-width:6.25" d="M1720,900 C1670,890 1620,940 1630,990"/>
<path class="m" d="M1540,960 C1530,1040 1580,1110 1660,1100 C1720,1090 1750,1050 1760,1020"/>
<path class="k" d="M1620,1010 C1630,1030 1650,1040 1670,1035"/>
<!-- label plate -->
<path class="m" d="M905,890 C920,870 940,860 960,858 L1290,940 L1330,920 C1400,920 1480,980 1520,1050 C1540,1120 1530,1180 1500,1240 C1460,1330 1400,1400 1330,1450 L1240,1525 M905,890 L780,1300"/>
<!-- window -->
<path class="k" style="stroke-width:6.30;stroke-linejoin:miter" d="M587,880 L627,884 L684,824 C700,812 712,808 735,808 L756,808 L772,820 L764,890 L784,908 L724,1096 L687,1100 L625,1290 L490,1275 L552,1093 L516,1090 Z"/>
<path class="t" d="M776,833 C795,845 803,870 803,908 L827,912 L753,1125 L725,1118 L660,1300 L625,1290"/>
<path class="k" d="M430,1392 L520,1330 L600,1340 C680,1350 740,1330 800,1310 C850,1300 900,1310 940,1340 L980,1370"/>
<ellipse class="m" cx="1008" cy="1358" rx="33" ry="52" transform="rotate(25 1008 1358)"/>
<!-- right-bottom -->
<ellipse class="m" style="stroke-width:3.22" cx="1650" cy="1200" rx="38" ry="60" transform="rotate(15 1650 1200)"/>
<ellipse class="m" style="stroke-width:3.22" cx="1650" cy="1350" rx="28" ry="40" transform="rotate(15 1650 1350)"/>
<ellipse class="m" cx="1800" cy="1200" rx="28" ry="50" transform="rotate(15 1800 1200)"/>
<path class="k" d="M1560,1170 C1550,1220 1520,1280 1480,1330"/>
<path class="m" d="M1780,1100 C1770,1200 1740,1300 1700,1392 M1860,1130 C1850,1230 1820,1330 1790,1392"/>
</g>

<!-- V2: 4x tile [1130,1030,1607,1378] : cover bottom -->
<g transform="translate(1130,1030) scale(.25)">
<path class="k" style="stroke-width:5.62" d="M85,0 L45,512 L590,965 L665,958 L890,1115 C960,1145 1050,1100 1120,1040 C1180,990 1230,930 1255,900 L1255,660 C1250,620 1235,590 1222,575 L980,292"/>
<path class="t" d="M140,0 L92,490 L130,530 L610,945 M385,300 C390,380 410,420 420,450 M445,510 C470,580 460,640 460,700 L920,1085"/>
<path class="k" style="stroke-width:5.62" d="M1258,868 L1480,700 L1575,618"/>
<path class="m" d="M1240,445 C1225,480 1225,540 1240,600"/>
<path class="k" style="stroke-width:4.50" d="M1405,295 C1440,250 1520,150 1545,85 C1560,80 1565,100 1555,120 C1530,180 1470,260 1425,310 Z"/>


<ellipse class="m" style="stroke-width:3.22" cx="1525" cy="355" rx="38" ry="55" transform="rotate(20 1525 355)"/>
<path class="k" style="stroke-width:5.62" d="M1385,450 C1330,430 1290,490 1300,545 C1305,580 1330,590 1350,580"/>
<ellipse class="t" cx="1350" cy="510" rx="52" ry="80" transform="rotate(15 1350 510)"/>
<path class="m" d="M1340,520 L1565,635 M1608,658 L1622,665 M1665,685 L1715,712"/>
<path class="k" d="M1320,680 L1420,600 M1470,560 L1500,530"/>
<path class="k" style="stroke-width:6.25;stroke-linejoin:miter" d="M600,640 L735,485 L925,630 L780,795 Z M865,860 L1000,705 L1145,825 L1010,990 Z"/>
<path class="t" d="M780,795 L802,782 L922,650 M1010,990 L1032,977 L1142,845"/>
</g>

<!-- V3: 6x tile [1300,940,1618,1172] : rim tabs -->
<g transform="translate(1300,940) scale(.166667)">
<path class="k" style="stroke-width:5.75" d="M1820,-40 C1850,100 1858,300 1840,480"/>
<path class="k" style="stroke-width:5.75" d="M1790,630 C1770,720 1740,800 1700,890 C1660,980 1600,1080 1550,1152 C1500,1230 1440,1300 1340,1392"/>
<path class="k" style="stroke-width:4.25" d="M1660,570 C1650,680 1630,770 1600,840 C1570,920 1540,980 1500,1040 C1460,1100 1430,1130 1400,1152 C1350,1200 1290,1240 1180,1300"/>
<path class="k" style="stroke-width:4.25" d="M1650,650 L1700,660 C1740,690 1730,760 1700,800 L1630,790 M1580,880 C1640,880 1660,930 1630,990 L1550,990 M1470,1070 C1530,1080 1550,1150 1500,1200 L1420,1170 M1340,1230 C1400,1260 1400,1320 1350,1350 L1290,1290"/>
<path class="h" d="M1640,570 L1620,760"/>
</g>

<!-- screws (src coords) -->
<g transform="translate(920.5,966.5) rotate(23.5)">
<path class="k" style="stroke-width:4.25" d="M5,-8.6 C-2,-6.6 -2,6.6 5,8.6 L49,8.6 M5,-8.6 L46,-8.6"/>
<path class="t" style="stroke-width:1.70" d="M10.0,-7.6 C7.0,-3 6.5,2 8.0,6.1 M14.2,-7.6 C11.2,-3 10.7,2 12.2,6.1 M18.4,-7.6 C15.4,-3 14.9,2 16.4,6.1 M22.6,-7.6 C19.6,-3 19.1,2 20.6,6.1 M26.8,-7.6 C23.8,-3 23.3,2 24.8,6.1 M31.0,-7.6 C28.0,-3 27.5,2 29.0,6.1 M35.2,-7.6 C32.2,-3 31.7,2 33.2,6.1 M39.4,-7.6 C36.4,-3 35.9,2 37.4,6.1"/>
<ellipse class="k" style="stroke-width:4.25" cx="61" cy="0" rx="18.5" ry="22"/>
<ellipse class="m" cx="67" cy="1" rx="14.5" ry="18.5"/>
<path class="t" d="M52,-8 C52,4 56,14 62,19"/>
<path class="t" d="M65,-8 L69,3 L66,10 M73,-9 L70,2 L75,5 M69,3 L77,-1"/>
</g>
<g transform="translate(823.3,1090) rotate(22.5)">
<path class="k" style="stroke-width:4.25" d="M5,-8.6 C-2,-6.6 -2,6.6 5,8.6 L47,8.6 M5,-8.6 L44,-8.6"/>
<path class="t" style="stroke-width:1.70" d="M10.0,-7.6 C7.0,-3 6.5,2 8.0,6.1 M14.2,-7.6 C11.2,-3 10.7,2 12.2,6.1 M18.4,-7.6 C15.4,-3 14.9,2 16.4,6.1 M22.6,-7.6 C19.6,-3 19.1,2 20.6,6.1 M26.8,-7.6 C23.8,-3 23.3,2 24.8,6.1 M31.0,-7.6 C28.0,-3 27.5,2 29.0,6.1 M35.2,-7.6 C32.2,-3 31.7,2 33.2,6.1 M39.4,-7.6 C36.4,-3 35.9,2 37.4,6.1"/>
<ellipse class="k" style="stroke-width:4.25" cx="59" cy="0" rx="18.5" ry="22"/>
<ellipse class="m" cx="65" cy="1" rx="14.5" ry="18.5"/>
<path class="t" d="M50,-8 C50,4 54,14 60,19"/>
<path class="t" d="M63,-8 L67,3 L64,10 M71,-9 L68,2 L73,5 M67,3 L75,-1"/>
</g>
<g transform="translate(818.3,1151.7) rotate(25.9)">
<path class="k" style="stroke-width:4.25" d="M5,-8.6 C-2,-6.6 -2,6.6 5,8.6 L108,8.6 M5,-8.6 L105,-8.6"/>
<path class="t" style="stroke-width:1.70" d="M10.0,-7.6 C7.0,-3 6.5,2 8.0,6.1 M14.2,-7.6 C11.2,-3 10.7,2 12.2,6.1 M18.4,-7.6 C15.4,-3 14.9,2 16.4,6.1 M22.6,-7.6 C19.6,-3 19.1,2 20.6,6.1 M26.8,-7.6 C23.8,-3 23.3,2 24.8,6.1 M31.0,-7.6 C28.0,-3 27.5,2 29.0,6.1 M35.2,-7.6 C32.2,-3 31.7,2 33.2,6.1 M39.4,-7.6 C36.4,-3 35.9,2 37.4,6.1 M43.6,-7.6 C40.6,-3 40.1,2 41.6,6.1 M47.8,-7.6 C44.8,-3 44.3,2 45.8,6.1 M52.0,-7.6 C49.0,-3 48.5,2 50.0,6.1 M56.2,-7.6 C53.2,-3 52.7,2 54.2,6.1 M60.4,-7.6 C57.4,-3 56.9,2 58.4,6.1 M64.6,-7.6 C61.6,-3 61.1,2 62.6,6.1 M68.8,-7.6 C65.8,-3 65.3,2 66.8,6.1 M73.0,-7.6 C70.0,-3 69.5,2 71.0,6.1 M77.2,-7.6 C74.2,-3 73.7,2 75.2,6.1 M81.4,-7.6 C78.4,-3 77.9,2 79.4,6.1 M85.6,-7.6 C82.6,-3 82.1,2 83.6,6.1 M89.8,-7.6 C86.8,-3 86.3,2 87.8,6.1 M94.0,-7.6 C91.0,-3 90.5,2 92.0,6.1 M98.2,-7.6 C95.2,-3 94.7,2 96.2,6.1 M102.4,-7.6 C99.4,-3 98.9,2 100.4,6.1"/>
<ellipse class="k" style="stroke-width:4.25" cx="120" cy="0" rx="18.5" ry="22"/>
<ellipse class="m" cx="126" cy="1" rx="14.5" ry="18.5"/>
<path class="t" d="M111,-8 C111,4 115,14 121,19"/>
<path class="t" d="M124,-8 L128,3 L125,10 M132,-9 L129,2 L134,5 M128,3 L136,-1"/>
</g>
<g transform="translate(993.3,1256.7) rotate(25.9)">
<path class="k" style="stroke-width:4.25" d="M5,-8.6 C-2,-6.6 -2,6.6 5,8.6 L108,8.6 M5,-8.6 L105,-8.6"/>
<path class="t" style="stroke-width:1.70" d="M10.0,-7.6 C7.0,-3 6.5,2 8.0,6.1 M14.2,-7.6 C11.2,-3 10.7,2 12.2,6.1 M18.4,-7.6 C15.4,-3 14.9,2 16.4,6.1 M22.6,-7.6 C19.6,-3 19.1,2 20.6,6.1 M26.8,-7.6 C23.8,-3 23.3,2 24.8,6.1 M31.0,-7.6 C28.0,-3 27.5,2 29.0,6.1 M35.2,-7.6 C32.2,-3 31.7,2 33.2,6.1 M39.4,-7.6 C36.4,-3 35.9,2 37.4,6.1 M43.6,-7.6 C40.6,-3 40.1,2 41.6,6.1 M47.8,-7.6 C44.8,-3 44.3,2 45.8,6.1 M52.0,-7.6 C49.0,-3 48.5,2 50.0,6.1 M56.2,-7.6 C53.2,-3 52.7,2 54.2,6.1 M60.4,-7.6 C57.4,-3 56.9,2 58.4,6.1 M64.6,-7.6 C61.6,-3 61.1,2 62.6,6.1 M68.8,-7.6 C65.8,-3 65.3,2 66.8,6.1 M73.0,-7.6 C70.0,-3 69.5,2 71.0,6.1 M77.2,-7.6 C74.2,-3 73.7,2 75.2,6.1 M81.4,-7.6 C78.4,-3 77.9,2 79.4,6.1 M85.6,-7.6 C82.6,-3 82.1,2 83.6,6.1 M89.8,-7.6 C86.8,-3 86.3,2 87.8,6.1 M94.0,-7.6 C91.0,-3 90.5,2 92.0,6.1 M98.2,-7.6 C95.2,-3 94.7,2 96.2,6.1 M102.4,-7.6 C99.4,-3 98.9,2 100.4,6.1"/>
<ellipse class="k" style="stroke-width:4.25" cx="120" cy="0" rx="18.5" ry="22"/>
<ellipse class="m" cx="126" cy="1" rx="14.5" ry="18.5"/>
<path class="t" d="M111,-8 C111,4 115,14 121,19"/>
<path class="t" d="M124,-8 L128,3 L125,10 M132,-9 L129,2 L134,5 M128,3 L136,-1"/>
</g>
<g transform="translate(1638.5,1067.5) rotate(24.5)">
<path class="k" style="stroke-width:4.25" d="M5,-8.6 C-2,-6.6 -2,6.6 5,8.6 L71,8.6 M5,-8.6 L68,-8.6"/>
<path class="t" style="stroke-width:1.70" d="M10.0,-7.6 C7.0,-3 6.5,2 8.0,6.1 M14.2,-7.6 C11.2,-3 10.7,2 12.2,6.1 M18.4,-7.6 C15.4,-3 14.9,2 16.4,6.1 M22.6,-7.6 C19.6,-3 19.1,2 20.6,6.1 M26.8,-7.6 C23.8,-3 23.3,2 24.8,6.1 M31.0,-7.6 C28.0,-3 27.5,2 29.0,6.1 M35.2,-7.6 C32.2,-3 31.7,2 33.2,6.1 M39.4,-7.6 C36.4,-3 35.9,2 37.4,6.1"/>
<ellipse class="k" style="stroke-width:4.25" cx="83" cy="0" rx="18.5" ry="22"/>
<path class="t" d="M76,-3 L80,-14 L92,-17.5 L101,-10 M76,-3 L79,9 L87,16 M80,-14 L86,-6 L83,6 L79,9 M86,-6 L97,-9"/>
<ellipse class="t" cx="93" cy="2" rx="10.5" ry="13.5"/>
<ellipse class="t" cx="93" cy="2" rx="8.5" ry="11.5"/>
<path class="t" d="M90,-4 L96,8 M97,-5 L89,7"/>
<path class="k" style="stroke-width:4.25" d="M81,-23 C95,-24 104,-10 103,4"/>
</g>
<g transform="translate(1768.5,1115) rotate(25.5)">
<path class="k" style="stroke-width:4.25" d="M5,-8.6 C-2,-6.6 -2,6.6 5,8.6 L72,8.6 M5,-8.6 L69,-8.6"/>
<path class="t" style="stroke-width:1.70" d="M10.0,-7.6 C7.0,-3 6.5,2 8.0,6.1 M14.2,-7.6 C11.2,-3 10.7,2 12.2,6.1 M18.4,-7.6 C15.4,-3 14.9,2 16.4,6.1 M22.6,-7.6 C19.6,-3 19.1,2 20.6,6.1 M26.8,-7.6 C23.8,-3 23.3,2 24.8,6.1 M31.0,-7.6 C28.0,-3 27.5,2 29.0,6.1 M35.2,-7.6 C32.2,-3 31.7,2 33.2,6.1 M39.4,-7.6 C36.4,-3 35.9,2 37.4,6.1"/>
<ellipse class="k" style="stroke-width:4.25" cx="84" cy="0" rx="18.5" ry="22"/>
<path class="t" d="M77,-3 L81,-14 L93,-17.5 L102,-10 M77,-3 L80,9 L88,16 M81,-14 L87,-6 L84,6 L80,9 M87,-6 L98,-9"/>
<ellipse class="t" cx="94" cy="2" rx="10.5" ry="13.5"/>
<ellipse class="t" cx="94" cy="2" rx="8.5" ry="11.5"/>
<path class="t" d="M91,-4 L97,8 M98,-5 L90,7"/>
<path class="k" style="stroke-width:4.25" d="M82,-23 C96,-24 105,-10 104,4"/>
</g>
<g transform="translate(1562,1215) rotate(24.8)">
<path class="k" style="stroke-width:4.25" d="M5,-8.6 C-2,-6.6 -2,6.6 5,8.6 L71.7,8.6 M5,-8.6 L68.7,-8.6"/>
<path class="t" style="stroke-width:1.70" d="M10.0,-7.6 C7.0,-3 6.5,2 8.0,6.1 M14.2,-7.6 C11.2,-3 10.7,2 12.2,6.1 M18.4,-7.6 C15.4,-3 14.9,2 16.4,6.1 M22.6,-7.6 C19.6,-3 19.1,2 20.6,6.1 M26.8,-7.6 C23.8,-3 23.3,2 24.8,6.1 M31.0,-7.6 C28.0,-3 27.5,2 29.0,6.1 M35.2,-7.6 C32.2,-3 31.7,2 33.2,6.1 M39.4,-7.6 C36.4,-3 35.9,2 37.4,6.1"/>
<ellipse class="k" style="stroke-width:4.25" cx="83.7" cy="0" rx="18.5" ry="22"/>
<path class="t" d="M76.7,-3 L80.7,-14 L92.7,-17.5 L101.7,-10 M76.7,-3 L79.7,9 L87.7,16 M80.7,-14 L86.7,-6 L83.7,6 L79.7,9 M86.7,-6 L97.7,-9"/>
<ellipse class="t" cx="93.7" cy="2" rx="10.5" ry="13.5"/>
<ellipse class="t" cx="93.7" cy="2" rx="8.5" ry="11.5"/>
<path class="t" d="M90.7,-4 L96.7,8 M97.7,-5 L89.7,7"/>
<path class="k" style="stroke-width:4.25" d="M81.7,-23 C95.7,-24 104.7,-10 103.7,4"/>
</g>

<!-- cover markings (src coords) -->
<g>
<path class="m" d="M1382,1012 C1373,1016 1370,1030 1377,1038 C1382,1040 1390,1033 1393,1022 M1394,1040 C1385,1046 1384,1058 1390,1064 C1397,1065 1404,1056 1404,1044"/>
<text transform="translate(1440,1080) rotate(-68) scale(1,-1)" font-size="30" style="fill:none;stroke:#000;stroke-width:1.2">IND</text>
</g>

<!-- centre lines (src coords) -->
<g>
<path class="c" d="M626,511.7 L1240,832"/>
<path class="cs" d="M458.3,430.8 L514.2,460.8 M473.3,445 L595,504.2"/>
<path class="c" d="M620,518.3 L1233,845"/>
<path class="c" d="M458,470 L872,685 L622.5,807 L917,958"/>
<path class="c" d="M538,670 L1143,990"/>
<path class="c" d="M503.3,722.5 L584.2,765 L325,891.7 L533,1000"/>
<path class="c" d="M501.7,733.3 L601.7,785 L341.7,913.3 L530,1013"/>
<path class="c" d="M490.5,647.5 L233.3,773.3 L521.7,925"/>
<path class="cs" d="M296,615 L318,626"/>
<path class="cs" d="M1025,821.7 L1086.7,836.7 M1186.7,862.7 L1246.7,878.3 M1259,882 L1264,883.5"/>
</g>
<g>
<path class="cs" d="M610,1041.2 L650.8,1061.2 M661,1067 L666,1069.5 M676.7,1074.5 L732.5,1103.7 M743,1109.5 L748,1112 M758.3,1117 L813.3,1145.3"/>
<path class="cs" d="M760,1050.3 L817.5,1079.5 M783.3,1143.7 L818.3,1162"/>
</g>
<g>
<path class="cs" d="M947.5,1230.8 L989,1252.5 M800,1140 L814,1145.8"/>
<path class="cs" d="M1548.5,996 L1606,1025 M1616,1030 L1621,1032.5 M1631,1040 L1678.5,1062.5 M1746,1097.5 L1767,1110"/>
<path class="cs" d="M1541,1010 L1598.5,1038.75 M1608.5,1044 L1613.5,1046.5 M1623.5,1053.75 L1635,1059"/>
<path class="cs" d="M1693,1079 L1700,1082"/>
</g>

<!-- labels + leaders (src coords) -->
<g>
<path class="k" style="stroke-width:3.8;stroke-linecap:butt" d="M1091.7,613.3 L989.5,790.5 M1240,653.3 L1139,832.5"/>
<path class="k" style="stroke-width:4.4;stroke-linecap:butt" d="M317.5,1052.8 L551.7,1052.8"/>
<path class="k" style="stroke-width:3.4;stroke-linecap:butt" d="M1762,814 L1637,1241 M1766.5,814 L1703.5,1082.5 M1769,814 L1843.5,1139"/>
<text transform="translate(1086.3,609.8) scale(1.065,1)" font-size="52.5" font-weight="bold">2</text>
<text transform="translate(1236.3,648.3) scale(1.05,1)" font-size="52.5" font-weight="bold">3</text>
<clipPath id="c1"><path d="M1750,750 H1790 V787.5 H1777 V800 H1767.3 V787.5 H1750 Z"/></clipPath>
<g clip-path="url(#c1)"><text transform="translate(1755.3,797) scale(1.05,1)" font-size="52" font-weight="bold">1</text></g>
<text x="276.6" y="1069.8" font-size="52.5" font-weight="bold">4</text>
<text x="1726.5" y="1361" font-size="36" textLength="148.5" lengthAdjust="spacing" style="stroke:#fff;stroke-width:0.7">S120020</text>
</g>

</svg>
</body></html>
